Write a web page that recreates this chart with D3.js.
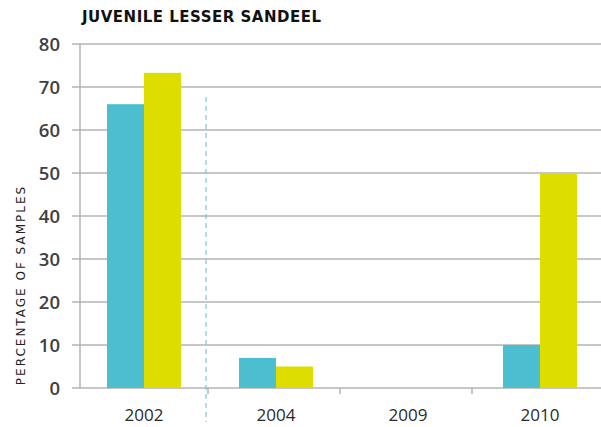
<!DOCTYPE html>
<html><head><meta charset="utf-8">
<script src="https://cdn.jsdelivr.net/npm/d3@7"></script>
<style>body{margin:0;background:#fff}svg{display:block}</style>
</head><body>
<svg id="c" width="601" height="427"></svg>
<script>
const categories = ["2002", "2004", "2009", "2010"];
const seriesA = [66, 7, 0, 10];
const seriesB = [73.3, 5, 0, 50];
const yTicks = [0, 10, 20, 30, 40, 50, 60, 70, 80];
const title = "JUVENILE LESSER SANDEEL";
const yLabel = "PERCENTAGE OF SAMPLES";

const svg = d3.select("#c");
const mLeft = 80, mRight = 606, mTop = 44, mBottom = 388;
const x = d3.scaleBand().domain(categories).range([78, mRight]);
const y = d3.scaleLinear().domain([0, 80]).range([mBottom, mTop]);
const barW = 37;

// gridlines
svg.append("g").selectAll("line").data(yTicks).join("line")
  .attr("x1", mLeft - 8).attr("x2", mRight).attr("y1", d => y(d)).attr("y2", d => y(d))
  .attr("stroke", "#b4b4b4").attr("stroke-width", 1.5);
// y axis line
svg.append("line").attr("x1", mLeft).attr("x2", mLeft).attr("y1", mTop).attr("y2", mBottom)
  .attr("stroke", "#b4b4b4").attr("stroke-width", 1.5);
// y tick labels
svg.append("g").selectAll("text").data(yTicks).join("text")
  .attr("x", mLeft - 20).attr("y", d => y(d)).attr("dy", "0.36em").attr("text-anchor", "end")
  .attr("font-family", "Open Sans, sans-serif").attr("font-size", 18.5).attr("font-weight", 600)
  .attr("fill", "#404040").text(d => d);

// bars
const g = svg.append("g");
g.selectAll("rect.a").data(categories).join("rect").attr("class", "a")
  .attr("x", d => x(d) + x.bandwidth() / 2 - barW).attr("width", barW)
  .attr("y", (d, i) => y(seriesA[i])).attr("height", (d, i) => y(0) - y(seriesA[i]))
  .attr("fill", "#4bbfcf");
g.selectAll("rect.b").data(categories).join("rect").attr("class", "b")
  .attr("x", d => x(d) + x.bandwidth() / 2).attr("width", barW)
  .attr("y", (d, i) => y(seriesB[i])).attr("height", (d, i) => y(0) - y(seriesB[i]))
  .attr("fill", "#dedd00");

// category ticks
svg.append("g").selectAll("line").data(categories.slice(1)).join("line")
  .attr("x1", d => x(d) - 2).attr("x2", d => x(d) - 2).attr("y1", mBottom).attr("y2", mBottom + 6)
  .attr("stroke", "#b4b4b4").attr("stroke-width", 1.5);

// dashed divider
svg.append("line").attr("x1", x("2004") - 4).attr("x2", x("2004") - 4).attr("y1", 97).attr("y2", 422)
  .attr("stroke", "#7fc6d8").attr("stroke-width", 1.2).attr("stroke-dasharray", "5,4");

// x labels
svg.append("g").selectAll("text").data(categories).join("text")
  .attr("x", d => x(d) + x.bandwidth() / 2).attr("y", 421).attr("text-anchor", "middle")
  .attr("font-family", "Open Sans, sans-serif").attr("font-size", 17)
  .attr("fill", "#2a2a2a").text(d => d);

// title
svg.append("text").attr("x", 82).attr("y", 22)
  .attr("font-family", "DejaVu Sans, sans-serif").attr("font-size", 15).attr("font-weight", 700)
  .attr("letter-spacing", 0.5).attr("fill", "#111").text(title);

// y label
svg.append("text").attr("transform", "translate(25,285) rotate(-90)").attr("text-anchor", "middle")
  .attr("font-family", "DejaVu Sans, sans-serif").attr("font-size", 12)
  .attr("letter-spacing", 2).attr("fill", "#222").text(yLabel);
</script>
</body></html>
